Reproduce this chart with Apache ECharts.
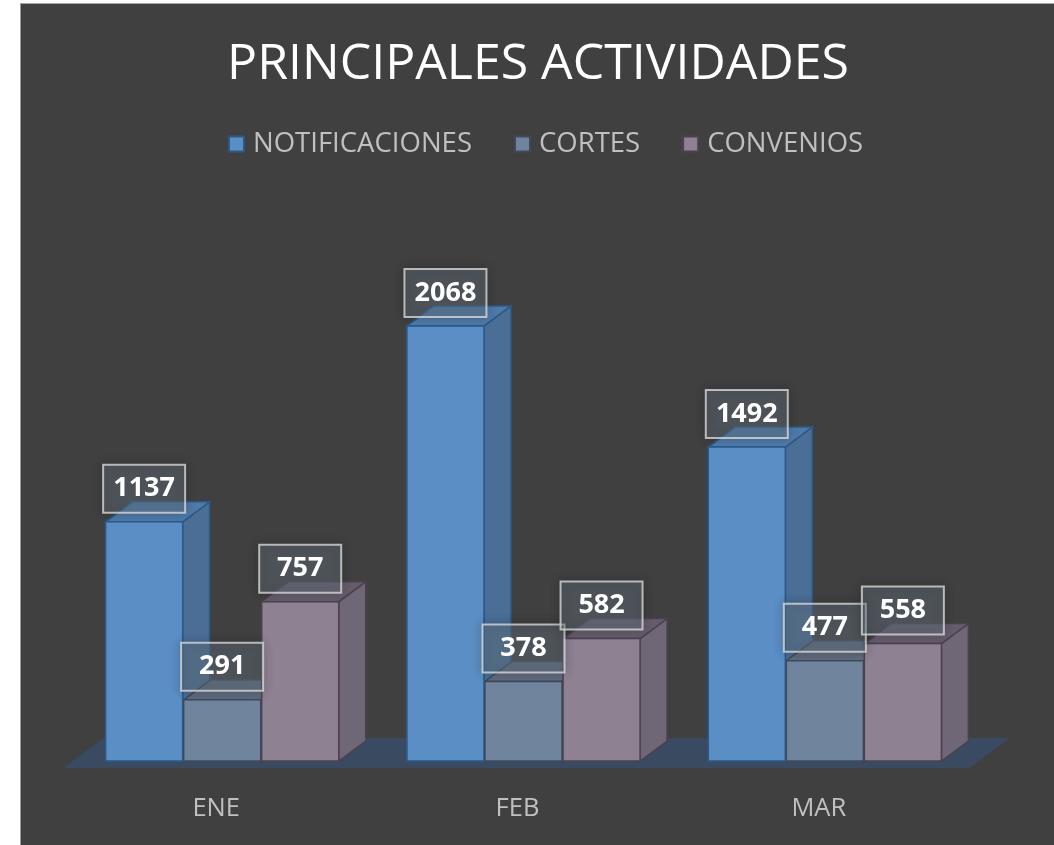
<!DOCTYPE html>
<html>
<head>
<meta charset="utf-8">
<script src="https://cdn.jsdelivr.net/npm/echarts@6/dist/echarts.min.js"></script>
<style>
  html, body { margin: 0; padding: 0; background: #ffffff; width: 1054px; height: 845px; overflow: hidden; }
  #chart { position: absolute; left: 20px; top: 3px; width: 1034px; height: 842px;
           border-left: 1px solid #9a9a9a; border-top: 1px solid #a8a8a8; background: #404040; }
</style>
</head>
<body>
<div id="chart"></div>
<script>
const categories = ['ENE', 'FEB', 'MAR'];
const seriesNames = ['NOTIFICACIONES', 'CORTES', 'CONVENIOS'];
const notificaciones = [1137, 2068, 1492];
const cortes = [291, 378, 477];
const convenios = [757, 582, 558];
const titleText = 'PRINCIPALES ACTIVIDADES';

const palettes = [
  { front: '#5b8ec4', side: '#4a6e96', top: '#4f7aa8', stroke: '#2b5a8a' },
  { front: '#71849e', side: '#5e6b80', top: '#5f6b7e', stroke: '#3e4a5a' },
  { front: '#8e8292', side: '#6f6676', top: '#665d6c', stroke: '#4c4150' }
];
const valuesList = [notificaciones, cortes, convenios];

const chart = echarts.init(document.getElementById('chart'), null, { renderer: 'canvas' });

function makeBarRender(k) {
  const pal = palettes[k];
  return function (params, api) {
    const cat = api.value(0), val = api.value(1);
    const base = api.coord([cat, 0]);
    const top = api.coord([cat, val]);
    const band = api.size([1, 0])[0];
    const bw = band * 0.259;
    const x0 = base[0] - 1.5 * bw + k * bw + 0.5;
    const w = bw - 1;
    const yb = base[1], yt = top[1];
    const dx = 27, dy = 20;
    const cx = x0 + w / 2;
    return {
      type: 'group',
      children: [
        { type: 'polygon', z2: 1,
          shape: { points: [[x0 + w, yb], [x0 + w + dx, yb - dy], [x0 + w + dx, yt - dy], [x0 + w, yt]] },
          style: { fill: pal.side, stroke: pal.stroke, lineWidth: 1.5 } },
        { type: 'polygon', z2: 1,
          shape: { points: [[x0, yt], [x0 + dx, yt - dy], [x0 + w + dx, yt - dy], [x0 + w, yt]] },
          style: { fill: pal.top, stroke: pal.stroke, lineWidth: 1.5 } },
        { type: 'rect', z2: 2,
          shape: { x: x0, y: yt, width: w, height: yb - yt },
          style: { fill: pal.front, stroke: pal.stroke, lineWidth: 1.5 } },
        { type: 'rect', z2: 100,
          shape: { x: cx - 41, y: yt - 9 - 48, width: 82, height: 48 },
          style: { fill: 'rgba(110,125,140,0.38)', stroke: 'rgba(215,215,215,0.8)', lineWidth: 2,
                   shadowBlur: 10, shadowColor: 'rgba(0,0,0,0.35)' } },
        { type: 'text', z2: 101,
          style: { text: String(val), x: cx, y: yt - 9 - 24, align: 'center', verticalAlign: 'middle',
                   fill: '#ffffff', font: 'bold 27px "Open Sans", sans-serif' } }
      ]
    };
  };
}

const series = [
  {
    type: 'custom', name: 'floor', silent: true, z: 1,
    data: [[0, 0]],
    renderItem: function (params, api) {
      const cs = params.coordSys;
      const fy = cs.y + cs.height + 7;
      const lx = cs.x - 8, rx = cs.x + cs.width - 6;
      return { type: 'polygon', shape: { points: [[lx, fy], [rx, fy], [rx + 40, fy - 30], [lx + 40, fy - 30]] },
               style: { fill: '#3a4a60' } };
    }
  }
];
seriesNames.forEach((name, k) => {
  series.push({
    type: 'custom', name: name, z: 2,
    itemStyle: { color: palettes[k].front, borderColor: palettes[k].stroke, borderWidth: 1.5 },
    data: valuesList[k].map((v, i) => [i, v]),
    renderItem: makeBarRender(k)
  });
});

chart.setOption({
  backgroundColor: '#404040',
  animation: false,
  title: {
    text: titleText, left: 'center', top: 36, padding: 0,
    textStyle: { color: '#ffffff', fontSize: 50, fontWeight: 'normal', fontFamily: '"Open Sans", sans-serif' }
  },
  legend: {
    data: seriesNames, top: 126, left: 207, padding: 0,
    icon: 'rect', itemWidth: 15, itemHeight: 15, itemGap: 42,
    textStyle: { color: '#c0c0c0', fontSize: 27.5, fontFamily: '"Open Sans", sans-serif', padding: [0, 0, 0, 4] }
  },
  grid: { left: 50.5, right: 79.5, top: 231, bottom: 85, containLabel: false },
  xAxis: {
    type: 'category', data: categories,
    axisLine: { show: false }, axisTick: { show: false }, splitLine: { show: false },
    axisLabel: { color: '#c0c0c0', fontSize: 25.5, fontFamily: '"Open Sans", sans-serif', margin: 35, padding: [0, 12, 0, 0] }
  },
  yAxis: { type: 'value', min: 0, max: 2500, show: false, splitLine: { show: false } },
  series: series
});
</script>
</body>
</html>
